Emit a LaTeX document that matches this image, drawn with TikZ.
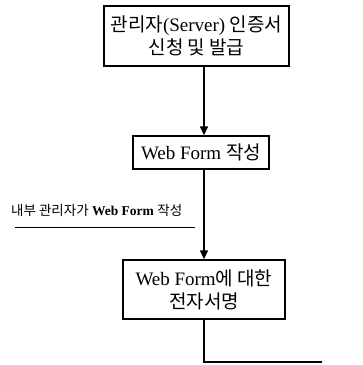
\documentclass[tikz,border=0pt]{standalone}
\usepackage{fontspec}
\setmainfont{Liberation Serif}
\newfontfamily\kr{Noto Sans CJK KR}
\usetikzlibrary{arrows.meta}
\begin{document}
\begin{tikzpicture}[x=1pt,y=-1pt,
  box/.style={draw,line width=1.4pt,align=center,inner sep=0pt,font=\fontsize{19}{23}\selectfont},
  conn/.style={line width=1.4pt},
  arr/.style={conn,-{Triangle[length=9pt,width=8pt]}}]
\useasboundingbox (0,0) rectangle (363,365);
\node[box,minimum width=185pt,minimum height=60pt] (b1) at (196.5,36)
  {{\kr 관리자}(Server) {\kr 인증서}\\{\kr 신청 및 발급}};
\node[box,minimum width=136pt,minimum height=33pt] (b2) at (201,152.5)
  {Web Form {\kr 작성}};
\node[box,minimum width=162pt,minimum height=59pt] (b3) at (204,289.5)
  {Web Form{\kr 에 대한}\\{\kr 전자서명}};
\node[anchor=west,inner sep=0pt,font=\fontsize{13.5}{16}\selectfont] (lbl) at (11,210)
  {{\kr 내부 관리자가} \textbf{Web Form} {\kr 작성}};
\coordinate (l1) at (15,227);
\coordinate (l2) at (195,227);
\coordinate (c1) at (204,362);
\coordinate (c2) at (322,362);
\draw[arr] (b1.south -| b3.north) -- (b2.north -| b3.north);
\draw[arr] (b2.south -| b3.north) -- (b3.north);
\draw[conn] (b3.south) -- (c1) -- (c2);
\draw[line width=1pt] (l1) -- (l2);
\end{tikzpicture}
\end{document}
